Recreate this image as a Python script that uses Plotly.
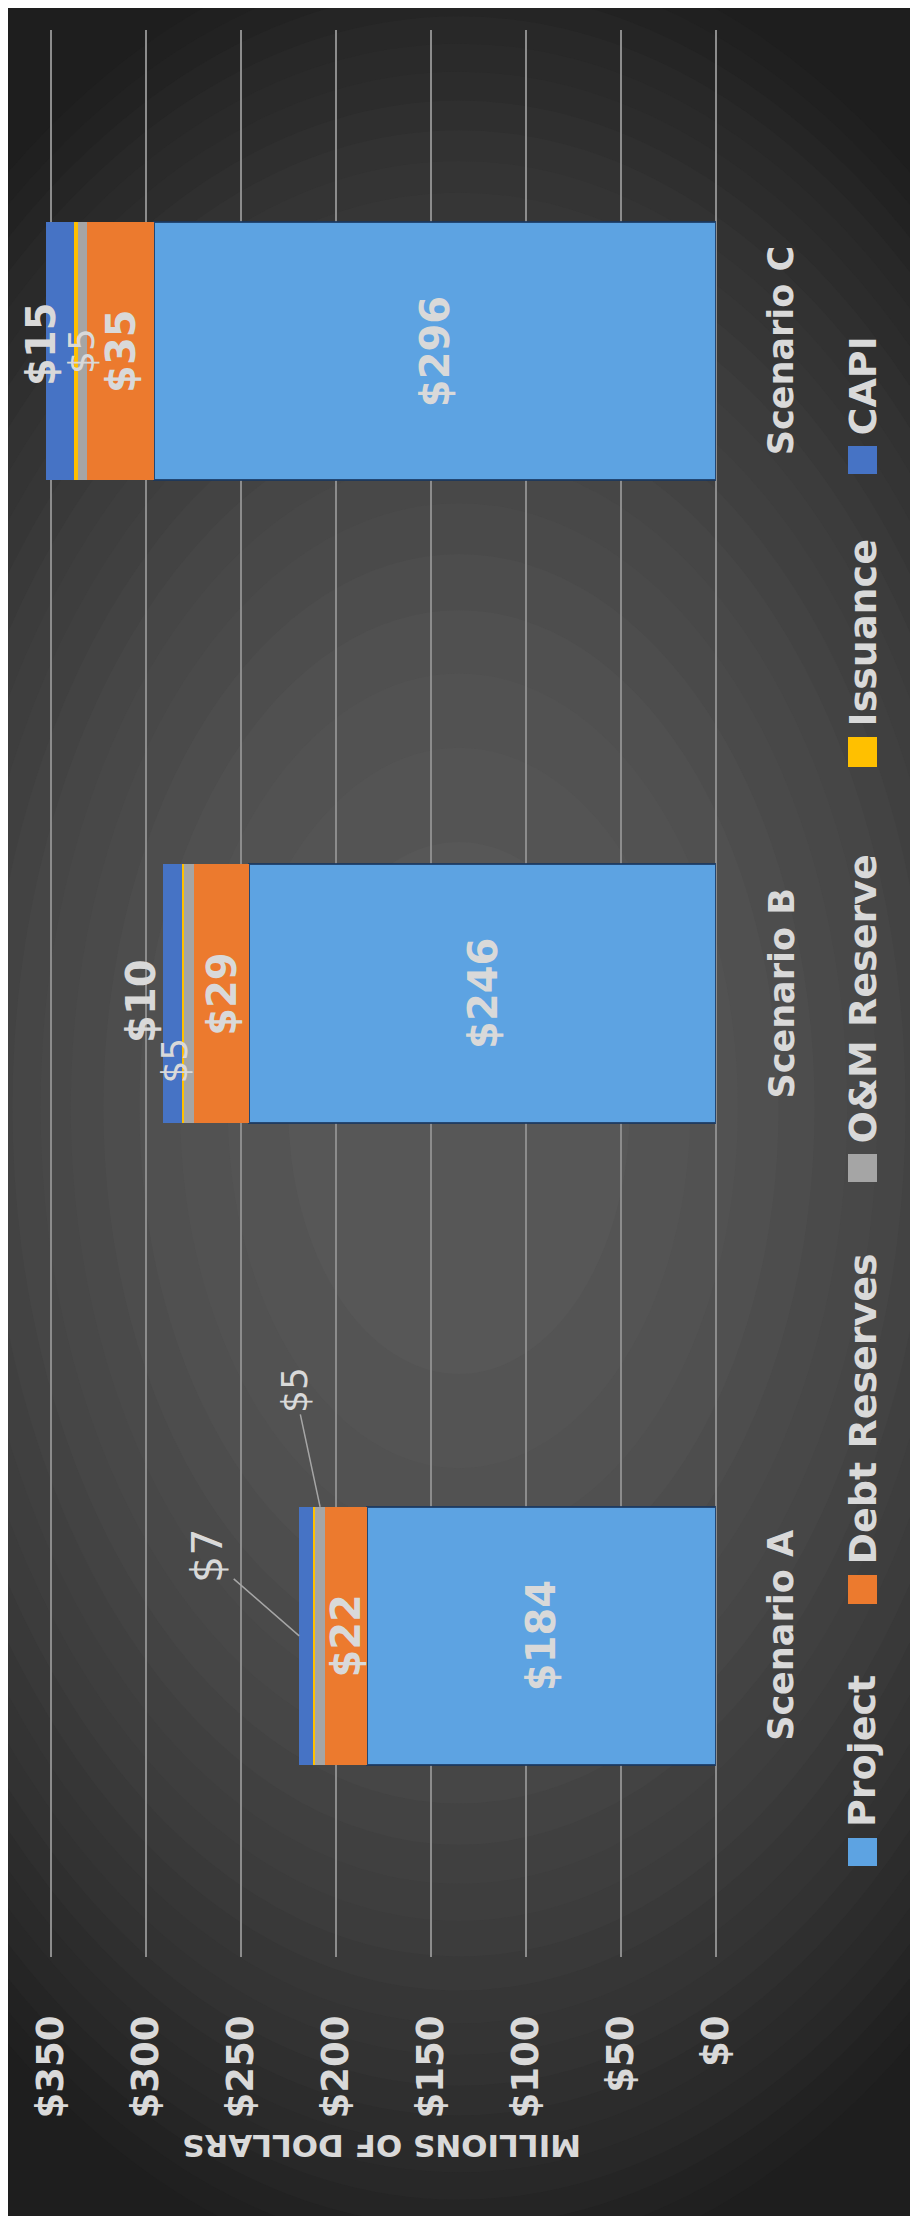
import plotly.graph_objects as go

# ---------------- data ----------------
categories = ["Scenario A", "Scenario B", "Scenario C"]
project = [184, 246, 296]
debt_reserves = [22, 29, 35]
om_reserve = [5, 5, 5]
issuance = [1.5, 1, 2]
capi = [7, 10, 15]
series_names = ["Project", "Debt Reserves", "O&M Reserve", "Issuance", "CAPI"]
tick_values = [0, 50, 100, 150, 200, 250, 300, 350]
tick_labels = ["$0", "$50", "$100", "$150", "$200", "$250", "$300", "$350"]
axis_title = "MILLIONS OF DOLLARS"

# ---------------- style / geometry ----------------
W, H = 918, 2216
OFF = 8                      # page body margin
L, T = 36, 22
PW, PH = 672, 1927
R, B = W - L - PW, H - T - PH
X_MAX = 353.9
FONT = "DejaVu Sans"
TXT = "#D9D9D9"
colors = ["#5DA3E2", "#EC7A2E", "#A5A5A5", "#FFC000", "#4673C5"]
line_colors = ["rgba(25,55,95,0.85)", "rgba(0,0,0,0)", "rgba(0,0,0,0)",
               "rgba(0,0,0,0)", "rgba(0,0,0,0)"]


def px_x(p):
    return (p - OFF - L) / PW


def px_y(p):
    return (T + PH - (p - OFF)) / PH


series = [project, debt_reserves, om_reserve, issuance, capi]

fig = go.Figure()
for name, vals, c, lc in zip(series_names, series, colors, line_colors):
    fig.add_trace(go.Bar(
        x=vals, y=categories, orientation="h", name=name,
        marker=dict(color=c, line=dict(color=lc, width=2)),
        showlegend=False, hoverinfo="x+name",
    ))

# ---------------- background (elliptical radial gradient) ----------------
shapes = []
cx, cy, ax_, by_ = 459, 1108, 764, 1190
c = 32.0
while c <= 89:
    k = ((90 - c) / 60) ** 0.5
    g = int(round(c))
    shapes.append(dict(
        type="circle", xref="paper", yref="paper", layer="below",
        x0=px_x(cx - ax_ * k), x1=px_x(cx + ax_ * k),
        y0=px_y(cy + by_ * k), y1=px_y(cy - by_ * k),
        fillcolor=f"rgb({g},{g},{g})", line=dict(width=0),
    ))
    c += 2.5

annotations = []

# ---------------- bar labels ----------------
# per-label placement tweaks (pixels) for the small segments
om_place = [dict(arrow=True, ax=-25, ay=-117, xshift=0, yshift=129),
            dict(arrow=False, ax=0, ay=0, xshift=-15, yshift=-67),
            dict(arrow=False, ax=0, ay=0, xshift=-2, yshift=0)]
capi_place = [dict(arrow=True, ax=-92, ay=-80, xshift=0, yshift=0, bold=False, size=43),
              dict(arrow=False, ax=0, ay=0, xshift=-23, yshift=-7, bold=True, size=40),
              dict(arrow=False, ax=0, ay=0, xshift=-5, yshift=7, bold=True, size=40)]

for i, cat in enumerate(categories):
    cum = 0
    centers = []
    for vals in series:
        centers.append(cum + vals[i] / 2)
        cum += vals[i]
    total = cum
    for s_idx in (0, 1):
        annotations.append(dict(
            x=centers[s_idx], y=cat, xref="x", yref="y", showarrow=False,
            text=f"${series[s_idx][i]:g}", textangle=-90,
            font=dict(family=FONT, size=40, color=TXT, weight="bold"),
        ))
    p = om_place[i]
    annotations.append(dict(
        x=centers[2], y=cat, xref="x", yref="y",
        showarrow=p["arrow"], ax=p["ax"], ay=p["ay"], arrowhead=0,
        arrowcolor="#A6A6A6", arrowwidth=1.5,
        xshift=p["xshift"], yshift=p["yshift"],
        text=f"${om_reserve[i]:g}", textangle=-90,
        font=dict(family=FONT, size=36, color=TXT, weight="normal"),
    ))
    p = capi_place[i]
    annotations.append(dict(
        x=total, y=cat, xref="x", yref="y",
        showarrow=p["arrow"], ax=p["ax"], ay=p["ay"], arrowhead=0,
        arrowcolor="#A6A6A6", arrowwidth=1.5,
        xshift=p["xshift"], yshift=p["yshift"],
        text=f"${capi[i]:g}", textangle=-90,
        font=dict(family=FONT, size=p["size"], color=TXT,
                  weight="bold" if p["bold"] else "normal"),
    ))
    annotations.append(dict(
        x=px_x(781), y=cat, xref="paper", yref="y", showarrow=False,
        text=cat, textangle=-90, xanchor="center",
        font=dict(family=FONT, size=35, color=TXT, weight="bold"),
    ))

# axis title (upside down)
annotations.append(dict(
    x=px_x(382), y=px_y(2146), xref="paper", yref="paper", showarrow=False,
    text=axis_title, textangle=180, xanchor="center", yanchor="middle",
    font=dict(family=FONT, size=31, color=TXT, weight="bold"),
))

# ---------------- legend (rotated, drawn manually) ----------------
legend_icon_y = [(1838, 1866), (1575, 1604), (1154, 1182), (737, 767), (446, 474)]
for name, c, (y_lo, y_hi) in zip(series_names, colors, legend_icon_y):
    shapes.append(dict(
        type="rect", xref="paper", yref="paper", layer="above",
        x0=px_x(848), x1=px_x(877), y0=px_y(y_hi), y1=px_y(y_lo),
        fillcolor=c, line=dict(width=0),
    ))
    annotations.append(dict(
        x=px_x(862), y=px_y(y_lo - 9), xref="paper", yref="paper",
        showarrow=False, text=name, textangle=-90,
        xanchor="center", yanchor="bottom",
        font=dict(family=FONT, size=38, color=TXT, weight="bold"),
    ))

fig.update_layout(
    width=W, height=H,
    margin=dict(l=L, r=R, t=T, b=B, pad=0),
    barmode="stack", bargap=0.598,
    paper_bgcolor="#1E1E1E", plot_bgcolor="rgba(0,0,0,0)",
    xaxis=dict(
        range=[X_MAX, 0], tickvals=tick_values, ticktext=tick_labels,
        tickangle=-90, ticks="", ticklabelstandoff=50,
        tickfont=dict(family=FONT, size=37, color=TXT, weight="bold"),
        showgrid=True, gridcolor="#8C8C8C", gridwidth=1.5,
        zeroline=True, zerolinecolor="#8C8C8C", zerolinewidth=1.5,
        showline=False, fixedrange=True,
    ),
    yaxis=dict(
        type="category", categoryorder="array", categoryarray=categories,
        range=[-0.5, 2.5], showticklabels=False, showgrid=False,
        zeroline=False, showline=False, fixedrange=True,
    ),
    shapes=shapes, annotations=annotations, showlegend=False,
)

fig.write_html("out.html")
